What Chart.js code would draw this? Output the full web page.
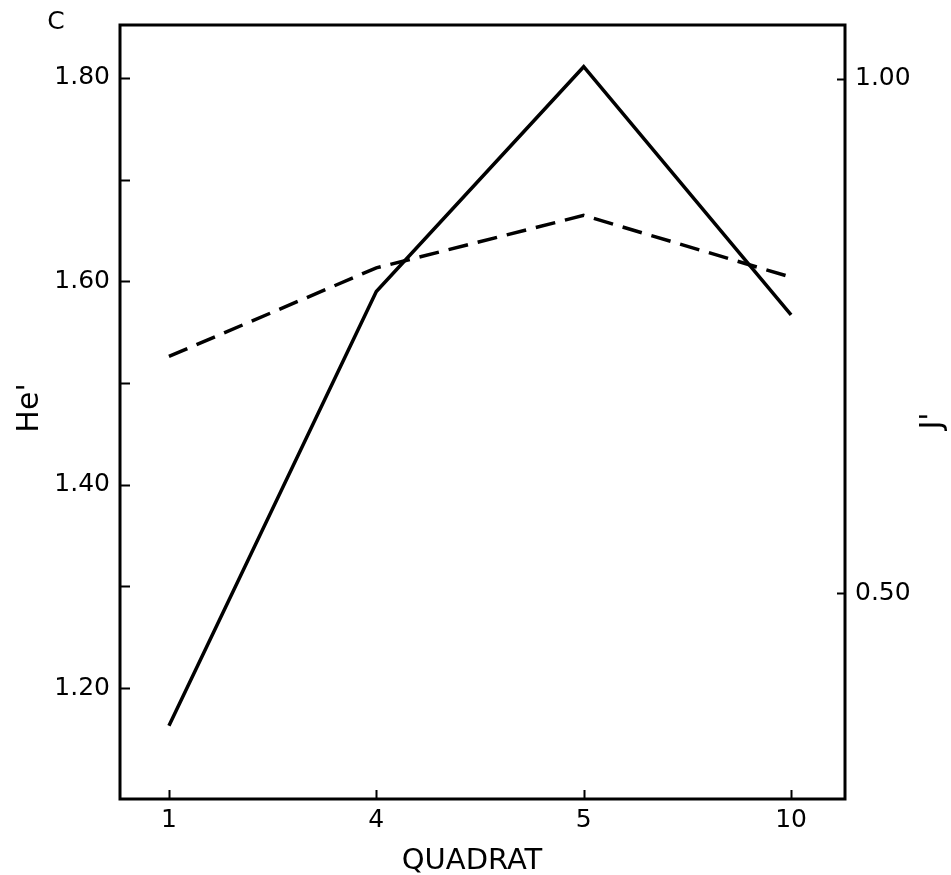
<!DOCTYPE html>
<html>
<head>
<meta charset="utf-8">
<script src="https://cdn.jsdelivr.net/npm/chart.js@4/dist/chart.umd.min.js"></script>
<style>
  html, body { margin: 0; padding: 0; background: #ffffff; }
  #wrap { width: 951px; height: 875px; }
</style>
</head>
<body>
<div id="wrap"><canvas id="c" width="951" height="875"></canvas></div>
<script>
// ---- data ----
const QUADRATS = ['1', '4', '5', '10'];
const HE_VALUES = [1.163, 1.590, 1.811, 1.567];   // solid line, left axis (He')
const J_VALUES = [0.730, 0.816, 0.867, 0.807];    // dashed line, right axis (J')
const HE_TICKS = [1.2, 1.3, 1.4, 1.5, 1.6, 1.7, 1.8];
const HE_LABELLED = [1.2, 1.4, 1.6, 1.8];
const J_TICKS = [0.5, 1.0];

const FONT = 'DejaVu Sans';

const framePlugin = {
  id: 'frame',
  afterDraw(chart) {
    const ctx = chart.ctx;
    const a = chart.chartArea;
    const x = chart.scales.x, yl = chart.scales.y, yr = chart.scales.y2;
    ctx.save();
    ctx.strokeStyle = '#000';
    ctx.lineCap = 'butt';
    // frame
    ctx.lineWidth = 3;
    ctx.strokeRect(a.left, a.top, a.right - a.left, a.bottom - a.top);
    // inward ticks
    ctx.lineWidth = 2;
    ctx.beginPath();
    yl.ticks.forEach(t => {
      const py = Math.round(yl.getPixelForValue(t.value)) + 0.5;
      ctx.moveTo(a.left, py); ctx.lineTo(a.left + 10, py);
    });
    yr.ticks.forEach(t => {
      const py = Math.round(yr.getPixelForValue(t.value)) + 0.5;
      ctx.moveTo(a.right, py); ctx.lineTo(a.right - 8, py);
    });
    x.ticks.forEach(t => {
      const px = Math.round(x.getPixelForValue(t.value)) + 0.5;
      ctx.moveTo(px, a.bottom); ctx.lineTo(px, a.bottom - 9);
    });
    ctx.stroke();
    // titles
    ctx.fillStyle = '#000';
    ctx.textAlign = 'center';
    ctx.textBaseline = 'middle';
    ctx.font = '29px "' + FONT + '"';
    ctx.fillText('QUADRAT', 472, 861);
    ctx.font = '25px "' + FONT + '"';
    ctx.fillText('C', 56, 22);
    ctx.font = '30px "' + FONT + '"';
    ctx.save();
    ctx.translate(30, 408);
    ctx.rotate(-Math.PI / 2);
    ctx.fillText("He'", 0, 0);
    ctx.restore();
    ctx.save();
    ctx.translate(933, 421);
    ctx.rotate(-Math.PI / 2);
    ctx.fillText("J'", 0, 0);
    ctx.restore();
    ctx.restore();
  }
};

new Chart(document.getElementById('c'), {
  type: 'line',
  data: {
    datasets: [
      {
        label: "He'",
        data: HE_VALUES.map((v, i) => ({ x: i, y: v })),
        yAxisID: 'y',
        borderColor: '#000',
        borderWidth: 3.5,
        pointRadius: 0,
        tension: 0,
        fill: false
      },
      {
        label: "J'",
        data: J_VALUES.map((v, i) => ({ x: i, y: v })),
        yAxisID: 'y2',
        borderColor: '#000',
        borderWidth: 3.5,
        borderDash: [20, 10],
        pointRadius: 0,
        tension: 0,
        fill: false
      }
    ]
  },
  options: {
    responsive: false,
    animation: false,
    devicePixelRatio: 1,
    layout: { padding: { top: 22, left: 0, right: 0, bottom: 0 } },
    plugins: { legend: { display: false }, tooltip: { enabled: false }, title: { display: false } },
    scales: {
      x: {
        type: 'linear',
        min: -0.236,
        max: 3.26,
        afterBuildTicks(axis) { axis.ticks = QUADRATS.map((q, i) => ({ value: i })); },
        afterFit(axis) { axis.height = 76; },
        grid: { display: false, drawTicks: false },
        border: { display: false },
        ticks: {
          padding: 6,
          color: '#000',
          font: { family: FONT, size: 25 },
          maxRotation: 0,
          callback: (v) => QUADRATS[v]
        }
      },
      y: {
        type: 'linear',
        position: 'left',
        min: 1.091,
        max: 1.852,
        afterBuildTicks(axis) { axis.ticks = HE_TICKS.map(v => ({ value: v })); },
        afterFit(axis) { axis.width = 120; },
        grid: { display: false, drawTicks: false },
        border: { display: false },
        ticks: {
          padding: 10,
          color: '#000',
          font: { family: FONT, size: 25 },
          callback: (v) => HE_LABELLED.some(t => Math.abs(t - v) < 1e-6) ? v.toFixed(2) : ''
        }
      },
      y2: {
        type: 'linear',
        position: 'right',
        min: 0.30,
        max: 1.052,
        afterBuildTicks(axis) { axis.ticks = J_TICKS.map(v => ({ value: v })); },
        afterFit(axis) { axis.width = 106; },
        grid: { display: false, drawTicks: false },
        border: { display: false },
        ticks: {
          padding: 10,
          color: '#000',
          font: { family: FONT, size: 25 },
          callback: (v) => v.toFixed(2)
        }
      }
    }
  },
  plugins: [framePlugin]
});
</script>
</body>
</html>
